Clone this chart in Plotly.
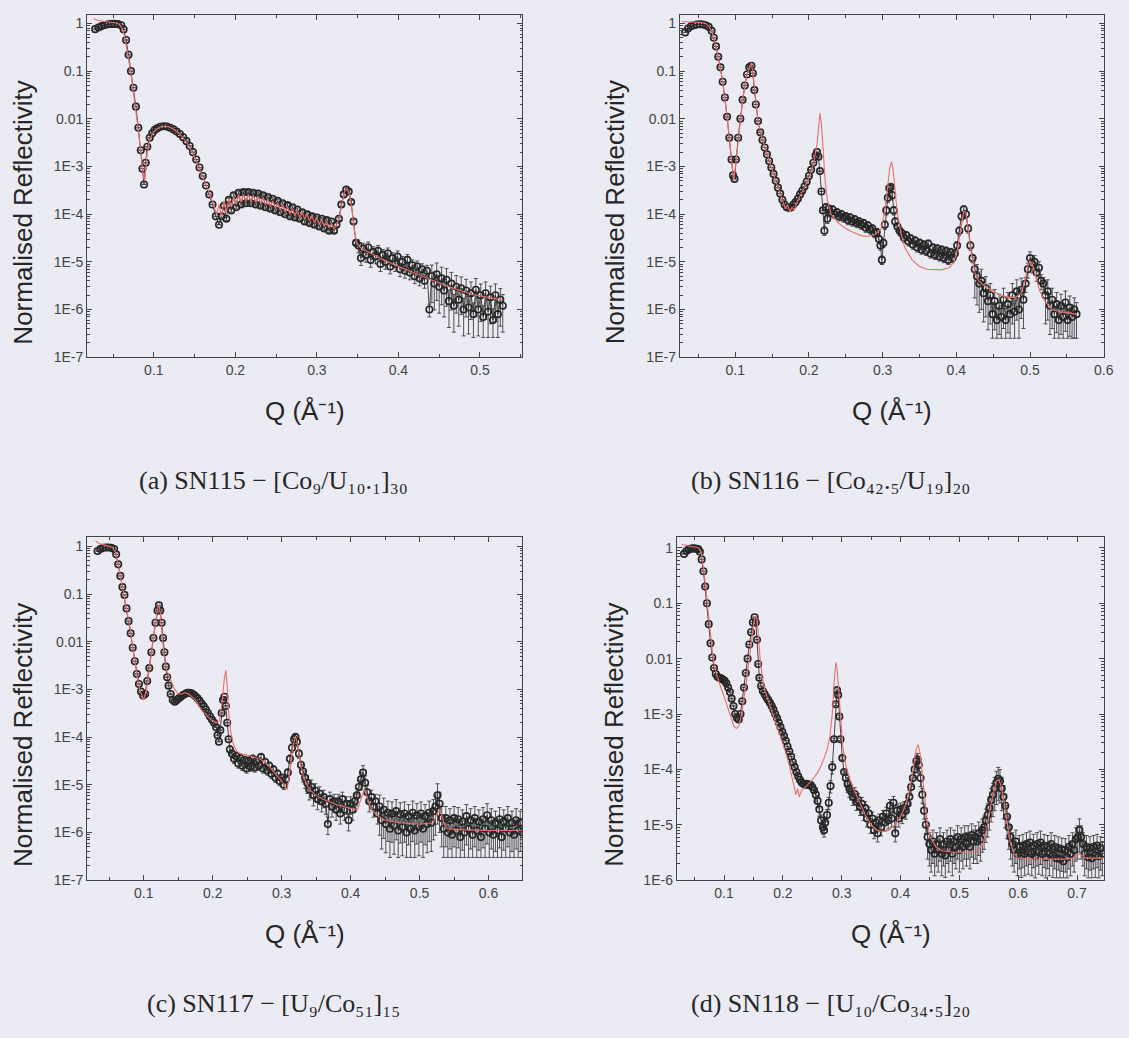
import plotly.graph_objects as go

# ------------------------------------------------------------------ data
# (a) SN115
q_exp_a = [0.028,0.032,0.036,0.040,0.044,0.048,0.052,0.056,0.060,0.063,
           0.066,0.069,0.072,0.075,0.078,0.081,0.084,0.086,0.088,0.090,
           0.092,0.095,0.098,0.101,0.104,0.108,0.112,0.116,0.120,0.124,
           0.128,0.132,0.136,0.140,0.144,0.148,0.152,0.156,0.160,0.164,
           0.168,0.172,0.176,0.180,
           0.183,0.186,0.189,0.192,0.195,0.198,0.201,0.204,0.207,0.210,
           0.213,0.216,0.219,0.222,0.225,0.228,0.231,0.234,0.237,0.240,
           0.243,0.246,0.249,0.252,0.255,0.258,0.261,0.264,0.267,0.270,
           0.273,0.276,0.279,0.282,0.285,0.288,0.291,0.294,0.297,0.300,
           0.303,0.306,0.309,0.312,0.315,0.318,0.321,0.324,0.327,0.330,
           0.333,0.336,0.339,0.342,0.345,0.348,0.351,0.354,0.357,0.360,
           0.363,0.366,0.369,0.372,0.375,0.378,0.381,0.384,0.387,0.390,
           0.393,0.396,0.399,0.402,0.405,0.408,0.411,0.414,0.417,0.420,
           0.423,0.426,0.429,0.432,0.435,0.438,0.441,0.444,0.447,0.450,
           0.453,0.456,0.459,0.462,0.465,0.468,0.471,0.474,0.477,0.480,
           0.483,0.486,0.489,0.492,0.495,0.498,0.501,0.504,0.507,0.510,
           0.513,0.516,0.519,0.522,0.525,0.528]
r_exp_a = [0.76,0.82,0.88,0.93,0.96,0.98,0.98,0.97,0.92,0.75,
           0.45,0.22,0.10,0.045,0.018,0.0065,0.0022,9e-4,4.2e-4,1.2e-3,
           2.6e-3,4.0e-3,5.0e-3,5.8e-3,6.3e-3,6.8e-3,7.0e-3,6.9e-3,6.5e-3,6.0e-3,
           5.4e-3,4.8e-3,4.1e-3,3.4e-3,2.7e-3,2.0e-3,1.4e-3,9.5e-4,6.3e-4,4.0e-4,
           2.6e-4,1.6e-4,9e-5,6e-5,
           9e-5,1.5e-4,8e-5,2.0e-4,1.2e-4,2.5e-4,1.4e-4,2.8e-4,1.6e-4,2.9e-4,
           1.7e-4,2.9e-4,1.7e-4,2.8e-4,1.6e-4,2.7e-4,1.5e-4,2.5e-4,1.4e-4,2.3e-4,
           1.3e-4,2.1e-4,1.2e-4,1.9e-4,1.1e-4,1.7e-4,1.0e-4,1.55e-4,9e-5,1.4e-4,
           8.5e-5,1.25e-4,8e-5,1.1e-4,7e-5,1.0e-4,6.5e-5,9e-5,6e-5,8.5e-5,
           5.5e-5,8e-5,5e-5,7.5e-5,4.5e-5,7e-5,4.5e-5,6e-5,8e-5,1.6e-4,
           2.6e-4,3.3e-4,3.0e-4,1.8e-4,7e-5,2.5e-5,2.2e-5,1.2e-5,1.9e-5,1.4e-5,
           2.0e-5,1.1e-5,1.6e-5,1.3e-5,1.7e-5,9e-6,1.4e-5,1.0e-5,1.5e-5,8e-6,
           1.2e-5,9e-6,1.3e-5,7e-6,1.0e-5,6.5e-6,1.1e-5,6e-6,8.5e-6,5e-6,
           8e-6,4.5e-6,7e-6,4e-6,6.5e-6,1.0e-6,5e-6,3.5e-6,5.5e-6,3e-6,
           4.5e-6,2.5e-6,4.2e-6,1.5e-6,3.5e-6,1.2e-6,3e-6,1.6e-6,2.8e-6,1.0e-6,
           2.5e-6,1.1e-6,2.2e-6,8e-7,2.6e-6,1.0e-6,2.0e-6,7e-7,2.2e-6,9e-7,
           1.8e-6,6e-7,2.0e-6,8e-7,1.6e-6,1.2e-6]
q_sim_a = [0.026,0.032,0.040,0.048,0.054,0.058,0.061,0.064,0.067,0.070,
           0.073,0.076,0.079,0.082,0.085,0.087,0.089,0.091,0.094,0.098,
           0.103,0.108,0.113,0.118,0.124,0.130,0.136,0.142,0.148,0.154,
           0.160,0.166,0.172,0.175,
           0.177,0.180,0.183,0.186,0.189,0.192,0.195,0.198,0.201,0.204,
           0.207,0.210,0.213,0.216,0.219,0.222,0.225,0.228,0.231,0.234,
           0.237,0.240,0.243,0.246,0.249,0.252,0.255,0.258,0.261,0.264,
           0.267,0.270,0.273,0.276,0.279,0.282,0.285,0.288,0.291,0.294,
           0.297,0.300,0.303,0.306,0.309,0.312,0.315,0.318,0.321,0.324,
           0.328,0.331,0.334,0.337,0.340,0.343,0.346,0.349,0.355,0.370,
           0.390,0.410,0.430,0.450,0.470,0.490,0.510,0.528]
r_sim_a = [1.25,1.15,1.1,1.06,1.02,0.95,0.8,0.55,0.3,0.14,
           0.065,0.028,0.011,0.0042,0.0014,6.5e-4,5e-4,1.5e-3,3.2e-3,4.8e-3,
           6.0e-3,6.7e-3,7.0e-3,6.8e-3,6.1e-3,5.1e-3,4.0e-3,2.9e-3,1.9e-3,1.1e-3,
           6.3e-4,3.4e-4,1.8e-4,1.3e-4,
           1.0e-4,1.6e-4,9e-5,1.9e-4,1.1e-4,2.1e-4,1.4e-4,2.4e-4,1.6e-4,2.6e-4,
           1.8e-4,2.6e-4,1.85e-4,2.6e-4,1.8e-4,2.5e-4,1.75e-4,2.4e-4,1.65e-4,2.25e-4,
           1.55e-4,2.1e-4,1.45e-4,1.9e-4,1.3e-4,1.75e-4,1.2e-4,1.6e-4,1.1e-4,1.45e-4,
           1.0e-4,1.3e-4,9.2e-5,1.2e-4,8.5e-5,1.1e-4,7.8e-5,1.0e-4,7.2e-5,9.2e-5,
           6.6e-5,8.4e-5,6e-5,7.7e-5,5.6e-5,7e-5,5.2e-5,6.4e-5,4.9e-5,5.8e-5,
           9e-5,1.8e-4,3.0e-4,3.4e-4,2.6e-4,1.2e-4,4.5e-5,2.4e-5,1.9e-5,1.4e-5,
           9.5e-6,6.8e-6,4.9e-6,3.6e-6,2.7e-6,2.1e-6,1.8e-6,1.6e-6]
err_q_a = [0.0, 0.183, 0.35, 0.44]
err_f_a = [0.0, 0.08, 0.3, 0.72]
floor_a = 2.6e-7

# (b) SN116
q_exp_b = [0.032,0.036,0.040,0.044,0.048,0.052,0.056,0.060,0.064,0.068,
           0.071,0.074,0.077,0.080,0.083,0.086,0.089,0.092,0.095,0.097,
           0.099,0.101,0.104,0.107,0.110,0.113,0.116,0.119,0.122,0.124,
           0.126,0.128,0.131,0.134,0.137,0.140,0.143,0.146,0.149,0.152,
           0.155,0.158,0.161,0.164,0.167,0.170,0.173,0.176,0.179,0.182,
           0.185,0.188,0.191,0.194,0.197,0.200,0.203,0.206,0.209,0.211,
           0.213,0.215,0.217,0.219,0.221,0.223,0.225,0.227,0.229,0.232,
           0.235,0.238,0.241,0.244,0.247,0.250,0.253,0.256,0.259,0.262,
           0.265,0.268,0.271,0.274,0.277,0.280,0.283,0.286,0.289,0.292,
           0.295,0.297,0.299,0.301,0.303,0.305,0.307,0.309,0.311,0.313,
           0.315,0.317,0.320,0.323,0.326,0.329,0.332,0.335,0.338,0.341,
           0.344,0.347,0.350,0.353,0.356,0.359,0.362,0.365,0.368,0.371,
           0.374,0.377,0.380,0.383,0.386,0.389,0.392,0.395,0.398,0.401,
           0.404,0.407,0.410,0.413,0.416,0.419,0.422,0.425,0.428,0.431,
           0.434,0.437,0.440,0.443,0.446,0.449,0.452,0.455,0.458,0.461,
           0.464,0.467,0.470,0.473,0.476,0.479,0.482,0.485,0.488,0.491,
           0.494,0.497,0.500,0.503,0.506,0.509,0.512,0.515,0.518,0.521,
           0.524,0.527,0.530,0.533,0.536,0.539,0.542,0.545,0.548,0.551,
           0.554,0.557,0.560,0.563]
r_exp_b = [0.65,0.78,0.87,0.92,0.95,0.96,0.95,0.92,0.85,0.7,
           0.5,0.33,0.2,0.12,0.06,0.028,0.011,4e-3,1.4e-3,6.5e-4,
           5.5e-4,1.4e-3,4e-3,1.0e-2,2.5e-2,5e-2,8.5e-2,0.12,0.13,0.09,
           0.04,0.02,9e-3,5.2e-3,3.6e-3,2.5e-3,1.8e-3,1.3e-3,9.5e-4,7e-4,
           5e-4,3.6e-4,2.7e-4,2.0e-4,1.6e-4,1.4e-4,1.35e-4,1.4e-4,1.6e-4,1.8e-4,
           2.1e-4,2.6e-4,3.1e-4,3.8e-4,4.8e-4,6.3e-4,8.5e-4,1.2e-3,1.7e-3,2.0e-3,
           1.6e-3,8e-4,3e-4,1.2e-4,4.5e-5,1.4e-4,8e-5,1.3e-4,1.1e-4,1.25e-4,
           1.0e-4,1.1e-4,9e-5,1.0e-4,8.5e-5,9e-5,7.5e-5,8.5e-5,7e-5,7.8e-5,
           6.5e-5,7e-5,6e-5,6.5e-5,5.2e-5,5.8e-5,4.8e-5,5e-5,4e-5,4.2e-5,
           3e-5,2.2e-5,1.1e-5,2.5e-5,6e-5,1.2e-4,2.2e-4,3.5e-4,3.7e-4,2.5e-4,
           1.2e-4,7e-5,5.5e-5,4.5e-5,4e-5,3.2e-5,3.6e-5,2.7e-5,3.1e-5,2.3e-5,
           2.8e-5,2.0e-5,2.5e-5,1.8e-5,2.3e-5,1.7e-5,2.4e-5,1.5e-5,2.0e-5,1.4e-5,
           1.9e-5,1.3e-5,1.8e-5,1.2e-5,1.7e-5,1.1e-5,1.6e-5,1.2e-5,1.5e-5,2.2e-5,
           4.5e-5,9e-5,1.25e-4,1.0e-4,5e-5,2.2e-5,1.2e-5,7e-6,5e-6,3.5e-6,
           4e-6,2.2e-6,2.8e-6,1.5e-6,2.0e-6,8e-7,1.5e-6,6e-7,1.2e-6,7e-7,
           1.6e-6,6e-7,1.3e-6,8e-7,2.0e-6,9e-7,2.4e-6,1.0e-6,2.6e-6,1.6e-6,
           3.5e-6,7e-6,1.2e-5,9e-6,1.0e-5,6e-6,7.5e-6,4e-6,3.5e-6,2e-6,
           2.4e-6,1.2e-6,1.6e-6,8e-7,1.3e-6,6e-7,1.2e-6,7e-7,1.4e-6,6e-7,
           1.1e-6,7e-7,1.0e-6,8e-7]
q_sim_b = [0.028,0.035,0.045,0.055,0.060,0.064,0.068,0.072,0.077,0.083,
           0.089,0.094,0.098,0.101,0.105,0.110,0.116,0.120,0.122,0.124,
           0.127,0.131,0.137,0.143,0.150,0.157,0.164,0.168,0.171,0.174,
           0.177,0.180,0.184,0.190,0.196,0.202,0.207,0.211,0.213,0.215,
           0.217,0.219,0.222,0.225,0.230,0.240,0.250,0.260,0.270,0.280,
           0.290,0.298,0.303,0.307,0.310,0.312,0.314,0.317,0.320,0.325,
           0.330,0.340,0.350,0.360,0.370,0.380,0.390,0.397,0.402,0.406,
           0.410,0.413,0.416,0.420,0.425,0.430,0.440,0.450,0.460,0.470,
           0.480,0.488,0.493,0.497,0.500,0.503,0.508,0.513,0.520,0.530,
           0.540,0.550,0.563]
r_sim_b = [1.1,1.09,1.07,1.04,1.0,0.88,0.7,0.45,0.2,0.06,
           0.011,1.8e-3,5e-4,1.2e-3,5e-3,0.025,0.085,0.13,0.15,0.09,
           0.03,9e-3,3.6e-3,1.8e-3,8.5e-4,4e-4,2e-4,1.3e-4,1.6e-4,1.1e-4,
           1.4e-4,1.2e-4,1.8e-4,2.7e-4,4.3e-4,7e-4,1.3e-3,3e-3,8e-3,0.013,
           8e-3,2e-3,5e-4,2e-4,1e-4,6.5e-5,5e-5,4.2e-5,3.6e-5,3.4e-5,
           3.8e-5,5e-5,1.2e-4,4e-4,1e-3,1.25e-3,9e-4,3e-4,1e-4,4e-5,
           2e-5,1.1e-5,8e-6,7e-6,6.8e-6,6.8e-6,7.5e-6,1e-5,2e-5,5e-5,
           1.15e-4,1.1e-4,5e-5,1.6e-5,6e-6,4e-6,3e-6,2.5e-6,2e-6,1.8e-6,
           1.8e-6,2.2e-6,4e-6,8e-6,1.05e-5,9e-6,5e-6,2.5e-6,1.5e-6,1.0e-6,
           9e-7,8.5e-7,8e-7]
err_q_b = [0.0, 0.22, 0.425, 0.492, 0.52]
err_f_b = [0.0, 0.2, 0.75, 0.35, 0.75]
floor_b = 2.5e-7

# (c) SN117
q_exp_c = [0.033,0.037,0.041,0.045,0.049,0.053,0.057,0.060,0.063,0.066,
           0.069,0.072,0.075,0.078,0.081,0.084,0.087,0.090,0.093,0.096,
           0.099,0.102,0.105,0.108,0.111,0.114,0.117,0.120,0.122,0.124,
           0.126,0.128,0.130,0.132,0.134,0.136,0.139,0.142,0.145,0.148,
           0.151,0.154,0.157,0.160,0.163,0.166,0.169,0.172,0.175,0.178,
           0.181,0.184,0.187,0.190,0.193,0.196,0.199,0.202,0.205,0.207,
           0.209,0.211,0.213,0.215,0.217,0.219,0.221,0.223,0.225,0.228,
           0.231,0.234,0.237,0.240,0.243,0.246,0.249,0.252,0.255,0.258,
           0.261,0.264,0.267,0.270,0.273,0.276,0.279,0.282,0.285,0.288,
           0.291,0.294,0.297,0.300,0.303,0.306,0.309,0.312,0.315,0.318,
           0.320,0.322,0.325,0.328,0.331,0.334,0.337,0.340,0.343,0.346,
           0.349,0.352,0.355,0.358,0.361,0.364,0.367,0.370,0.373,0.376,
           0.379,0.382,0.385,0.388,0.391,0.394,0.397,0.400,0.403,0.406,
           0.409,0.412,0.415,0.418,0.421,0.424,0.427,0.430,0.433,0.436,
           0.439,0.442,0.445,0.448,0.451,0.454,0.457,0.460,0.463,0.466,
           0.469,0.472,0.475,0.478,0.481,0.484,0.487,0.490,0.493,0.496,
           0.499,0.502,0.505,0.508,0.511,0.514,0.517,0.520,0.523,0.526,
           0.529,0.532,0.535,0.538,0.541,0.544,0.547,0.550,0.553,0.556,
           0.559,0.562,0.565,0.568,0.571,0.574,0.577,0.580,0.583,0.586,
           0.589,0.592,0.595,0.598,0.601,0.604,0.607,0.610,0.613,0.616,
           0.619,0.622,0.625,0.628,0.631,0.634,0.637,0.640,0.643,0.646,
           0.649]
r_exp_c = [0.8,0.88,0.93,0.95,0.95,0.93,0.88,0.68,0.42,0.24,
           0.14,0.096,0.05,0.027,0.015,7.5e-3,3.9e-3,2.1e-3,1.3e-3,9e-4,
           7.5e-4,8e-4,1.5e-3,2.8e-3,6e-3,1.2e-2,2.5e-2,4.5e-2,5.8e-2,4.5e-2,
           2.5e-2,1.2e-2,6e-3,3e-3,1.8e-3,1.2e-3,8e-4,6e-4,5.5e-4,6e-4,
           6.5e-4,7e-4,7.6e-4,8e-4,8.5e-4,8.5e-4,8.3e-4,7.8e-4,7.2e-4,6.5e-4,
           5.8e-4,5e-4,4.4e-4,3.8e-4,3.2e-4,2.7e-4,2.3e-4,2e-4,1.6e-4,1.1e-4,
           8e-5,1.4e-4,3.2e-4,6e-4,7e-4,4.5e-4,2e-4,9e-5,5.5e-5,4.5e-5,
           3.5e-5,4e-5,2.8e-5,3.6e-5,2.5e-5,3.3e-5,2.2e-5,3.2e-5,2.4e-5,3.5e-5,
           2.3e-5,3.2e-5,2.5e-5,3.8e-5,2.2e-5,3.0e-5,2e-5,2.5e-5,1.7e-5,2.1e-5,
           1.4e-5,1.7e-5,1.2e-5,1.4e-5,1.0e-5,1.3e-5,1.8e-5,3.5e-5,6e-5,9e-5,
           1.0e-4,8e-5,4.5e-5,2.6e-5,1.9e-5,1.4e-5,1.1e-5,8e-6,9e-6,6e-6,
           7.5e-6,5e-6,6.5e-6,4.5e-6,5.5e-6,4e-6,1.5e-6,5e-6,3.5e-6,4.5e-6,
           3e-6,4.5e-6,2.5e-6,5e-6,3e-6,4e-6,1.8e-6,4e-6,3e-6,4.5e-6,
           6e-6,9e-6,1.3e-5,1.8e-5,1.1e-5,7e-6,4.5e-6,5.5e-6,3.5e-6,4.5e-6,
           2.5e-6,3.5e-6,1.8e-6,3e-6,1.5e-6,2.6e-6,1.2e-6,2.5e-6,1.4e-6,2.8e-6,
           1.1e-6,2.4e-6,1.3e-6,2.5e-6,1.0e-6,2.2e-6,1.2e-6,2.6e-6,1.1e-6,2.3e-6,
           1.3e-6,2.5e-6,1.2e-6,2.2e-6,1.5e-6,2.6e-6,1.6e-6,2.8e-6,3.5e-6,6e-6,
           4e-6,2.0e-6,1.2e-6,2.0e-6,1.0e-6,1.8e-6,9e-7,2.0e-6,1.1e-6,1.9e-6,
           8e-7,1.7e-6,1.0e-6,2.2e-6,1.2e-6,1.8e-6,9e-7,2.0e-6,1.1e-6,1.7e-6,
           8e-7,1.9e-6,1.2e-6,2.3e-6,1.0e-6,1.8e-6,9e-7,1.6e-6,1.1e-6,1.9e-6,
           8e-7,1.7e-6,1.2e-6,2.0e-6,1.0e-6,1.6e-6,9e-7,1.8e-6,1.1e-6,1.6e-6,
           1.0e-6]
q_sim_c = [0.030,0.035,0.045,0.055,0.060,0.063,0.066,0.070,0.075,0.080,
           0.085,0.090,0.095,0.100,0.104,0.108,0.112,0.116,0.120,0.122,
           0.124,0.127,0.130,0.133,0.137,0.140,0.145,0.150,0.155,0.160,
           0.165,0.170,0.175,0.180,0.185,0.190,0.195,0.200,0.205,0.210,
           0.214,0.217,0.219,0.221,0.223,0.226,0.230,0.235,0.240,0.250,
           0.260,0.270,0.280,0.290,0.300,0.305,0.308,0.312,0.316,0.320,
           0.323,0.327,0.332,0.340,0.350,0.360,0.380,0.400,0.410,0.415,
           0.420,0.425,0.430,0.440,0.450,0.470,0.500,0.520,0.525,0.530,
           0.535,0.540,0.560,0.600,0.649]
r_sim_c = [1.3,1.15,1.05,0.95,0.7,0.42,0.24,0.12,0.055,0.02,
           6e-3,2e-3,9e-4,6e-4,1.0e-3,2.5e-3,7e-3,2e-2,5e-2,6e-2,
           4e-2,1.2e-2,4.5e-3,2.5e-3,1.8e-3,1.4e-3,1.0e-3,8e-4,8e-4,8.5e-4,
           8e-4,7e-4,6e-4,4.5e-4,3.5e-4,3.0e-4,2.5e-4,2.2e-4,2.0e-4,2.2e-4,
           6e-4,1.8e-3,2.5e-3,1.2e-3,3.5e-4,1.3e-4,7e-5,5e-5,4.5e-5,4.2e-5,
           3.8e-5,3.4e-5,2.6e-5,1.8e-5,1.2e-5,9e-6,8e-6,2e-5,6e-5,1.05e-4,
           7e-5,2.8e-5,1.4e-5,8e-6,6e-6,5e-6,3.8e-6,3.2e-6,3e-6,5e-6,
           8e-6,5e-6,3e-6,2.2e-6,1.8e-6,1.6e-6,1.5e-6,1.6e-6,2.5e-6,3e-6,
           1.6e-6,1.2e-6,1.15e-6,1.1e-6,1.1e-6]
err_q_c = [0.0, 0.224, 0.33, 0.44]
err_f_c = [0.0, 0.2, 0.4, 0.75]
floor_c = 3.0e-7

# (d) SN118
q_exp_d = [0.032,0.036,0.040,0.044,0.048,0.052,0.056,0.059,0.062,0.065,
           0.068,0.071,0.074,0.077,0.080,0.083,0.086,0.089,0.092,0.095,
           0.098,0.101,0.104,0.107,0.110,0.113,0.116,0.119,0.122,0.125,
           0.128,0.131,0.134,0.137,0.140,0.143,0.146,0.149,0.152,0.154,
           0.156,0.158,0.160,0.163,0.166,0.169,0.172,0.175,0.178,0.181,
           0.184,0.187,0.190,0.193,0.196,0.199,0.202,0.205,0.208,0.211,
           0.214,0.217,0.220,0.223,0.226,0.229,0.232,0.235,0.238,0.241,
           0.244,0.247,0.250,0.253,0.256,0.259,0.262,0.265,0.268,0.270,
           0.272,0.275,0.278,0.281,0.284,0.287,0.290,0.292,0.294,0.296,
           0.298,0.301,0.304,0.307,0.310,0.313,0.316,0.319,0.322,0.325,
           0.328,0.331,0.334,0.337,0.340,0.343,0.346,0.349,0.352,0.355,
           0.358,0.361,0.364,0.367,0.370,0.373,0.376,0.379,0.382,0.385,
           0.388,0.391,0.394,0.397,0.400,0.403,0.406,0.409,0.412,0.415,
           0.418,0.421,0.424,0.427,0.429,0.431,0.434,0.437,0.440,0.443,
           0.446,0.449,0.452,0.455,0.458,0.461,0.464,0.467,0.470,0.473,
           0.476,0.479,0.482,0.485,0.488,0.491,0.494,0.497,0.500,0.503,
           0.506,0.509,0.512,0.515,0.518,0.521,0.524,0.527,0.530,0.533,
           0.536,0.539,0.542,0.545,0.548,0.551,0.554,0.557,0.560,0.563,
           0.566,0.569,0.572,0.575,0.578,0.581,0.584,0.587,0.590,0.593,
           0.596,0.599,0.602,0.605,0.608,0.611,0.614,0.617,0.620,0.623,
           0.626,0.629,0.632,0.635,0.638,0.641,0.644,0.647,0.650,0.653,
           0.656,0.659,0.662,0.665,0.668,0.671,0.674,0.677,0.680,0.683,
           0.686,0.689,0.692,0.695,0.698,0.701,0.704,0.707,0.710,0.713,
           0.716,0.719,0.722,0.725,0.728,0.731,0.734,0.737,0.740,0.743]
r_exp_d = [0.78,0.88,0.94,0.97,0.98,0.97,0.95,0.85,0.62,0.38,
           0.2,0.1,0.042,0.019,0.0105,6.8e-3,5.3e-3,4.7e-3,4.5e-3,4.4e-3,
           4.2e-3,4.0e-3,3.6e-3,3.0e-3,2.5e-3,1.9e-3,1.4e-3,1.0e-3,8.5e-4,8e-4,
           1.0e-3,1.7e-3,3.0e-3,5.5e-3,0.01,0.018,0.03,0.045,0.056,0.045,
           0.022,8e-3,4.5e-3,3.2e-3,2.6e-3,2.3e-3,2.0e-3,1.8e-3,1.6e-3,1.4e-3,
           1.2e-3,1.0e-3,8.5e-4,7e-4,5.8e-4,4.8e-4,4e-4,3.3e-4,2.6e-4,2.1e-4,
           1.7e-4,1.35e-4,1.1e-4,9e-5,7.5e-5,6.5e-5,5.8e-5,5.5e-5,5.3e-5,5.5e-5,
           5.2e-5,5.3e-5,4.8e-5,4.2e-5,3.5e-5,2.7e-5,1.9e-5,1.2e-5,9e-6,8e-6,
           1.1e-5,1.5e-5,2.5e-5,5e-5,1.1e-4,3.5e-4,1.5e-3,2.7e-3,2.2e-3,9e-4,
           3.5e-4,1.6e-4,9e-5,7e-5,5.5e-5,4.5e-5,4e-5,3.2e-5,3.6e-5,2.6e-5,
           2.8e-5,2.1e-5,2.4e-5,1.7e-5,2.0e-5,1.3e-5,1.6e-5,1.0e-5,1.3e-5,8e-6,
           1.1e-5,7e-6,1.2e-5,9e-6,1.4e-5,1.1e-5,1.6e-5,1.2e-5,2.2e-5,1.3e-5,
           2.5e-5,7e-6,1.8e-5,1.3e-5,1.9e-5,1.5e-5,2.0e-5,1.8e-5,2.4e-5,3.2e-5,
           4.8e-5,7e-5,1.0e-4,1.4e-4,1.5e-4,1.2e-4,7e-5,3.5e-5,1.8e-5,1.0e-5,
           6e-6,4.5e-6,3.5e-6,5e-6,3e-6,4.5e-6,3.5e-6,5.5e-6,3e-6,4.5e-6,
           2.8e-6,5e-6,3.5e-6,5.5e-6,3e-6,5e-6,4e-6,6e-6,3.5e-6,5.5e-6,
           4e-6,6e-6,4.5e-6,6e-6,4e-6,6.5e-6,5e-6,6e-6,5e-6,7e-6,
           5.5e-6,8e-6,9e-6,1.2e-5,1.5e-5,2e-5,2.8e-5,3.5e-5,4.5e-5,5.8e-5,
           6.8e-5,6.2e-5,4.5e-5,3.2e-5,2.2e-5,1.4e-5,9e-6,6e-6,4.5e-6,3.5e-6,
           5e-6,3e-6,4e-6,2.8e-6,4.2e-6,3e-6,4.5e-6,3.2e-6,4.8e-6,3e-6,
           4.2e-6,2.7e-6,4.5e-6,3.2e-6,4.8e-6,3e-6,4.2e-6,2.6e-6,4e-6,3e-6,
           4.5e-6,2.8e-6,4e-6,2.5e-6,3.8e-6,2.4e-6,3.6e-6,2.2e-6,3.5e-6,2.6e-6,
           4e-6,3e-6,4.5e-6,3.5e-6,5.5e-6,6e-6,8e-6,6e-6,4.5e-6,3e-6,
           4e-6,2.6e-6,3.8e-6,2.5e-6,4e-6,2.8e-6,4.2e-6,2.7e-6,3.8e-6,3e-6]
q_sim_d = [0.028,0.035,0.045,0.055,0.060,0.063,0.066,0.069,0.072,0.075,
           0.078,0.081,0.084,0.088,0.092,0.097,0.102,0.107,0.112,0.117,
           0.121,0.125,0.129,0.133,0.137,0.141,0.145,0.149,0.152,0.155,
           0.158,0.161,0.165,0.170,0.175,0.180,0.190,0.200,0.205,0.210,
           0.215,0.219,0.222,0.225,0.228,0.232,0.236,0.240,0.250,0.260,
           0.268,0.275,0.280,0.284,0.287,0.290,0.292,0.295,0.298,0.302,
           0.307,0.313,0.320,0.330,0.340,0.350,0.360,0.370,0.380,0.390,
           0.400,0.410,0.418,0.423,0.427,0.430,0.433,0.437,0.441,0.445,
           0.450,0.460,0.470,0.490,0.510,0.530,0.540,0.548,0.554,0.559,
           0.563,0.567,0.571,0.575,0.580,0.586,0.593,0.600,0.620,0.650,
           0.680,0.695,0.702,0.708,0.715,0.745]
r_sim_d = [1.15,1.1,1.06,1.02,0.9,0.62,0.36,0.19,0.09,0.042,
           0.02,0.011,7e-3,4.8e-3,3.6e-3,2.6e-3,1.8e-3,1.2e-3,8e-4,6e-4,
           5.5e-4,6e-4,9e-4,1.6e-3,3.2e-3,7e-3,0.016,0.035,0.055,0.06,
           0.03,0.011,4.5e-3,2.6e-3,1.7e-3,1.2e-3,6e-4,3e-4,2e-4,1.3e-4,
           8e-5,5e-5,3.5e-5,4.5e-5,3.2e-5,4.2e-5,4.6e-5,5e-5,6.5e-5,9e-5,
           1.4e-4,2.2e-4,4e-4,1e-3,3.5e-3,8.5e-3,7e-3,2.5e-3,8e-4,2.5e-4,
           1.2e-4,7e-5,4.5e-5,2.5e-5,1.5e-5,1e-5,8e-6,7.5e-6,8e-6,1e-5,
           1.4e-5,2.5e-5,6e-5,1.3e-4,2.4e-4,2.8e-4,2e-4,8e-5,3e-5,1.2e-5,
           6e-6,4e-6,3.4e-6,3.2e-6,3.2e-6,3.3e-6,4.5e-6,1e-5,2.5e-5,4.5e-5,
           6.2e-5,6.5e-5,5e-5,3e-5,1.2e-5,5e-6,3e-6,2.5e-6,2.4e-6,2.4e-6,
           2.4e-6,2.5e-6,3e-6,2.8e-6,2.5e-6,2.5e-6]
err_q_d = [0.0, 0.255, 0.285, 0.305, 0.445]
err_f_d = [0.0, 0.25, 0.05, 0.3, 0.6]
floor_d = 1.1e-6

# axis labels / captions
y_tickvals_7 = [1e-7, 1e-6, 1e-5, 1e-4, 1e-3, 0.01, 0.1, 1]
y_ticktext_7 = ["1E-7", "1E-6", "1E-5", "1E-4", "1E-3", "0.01", "0.1", "1"]
y_tickvals_6 = [1e-6, 1e-5, 1e-4, 1e-3, 0.01, 0.1, 1]
y_ticktext_6 = ["1E-6", "1E-5", "1E-4", "1E-3", "0.01", "0.1", "1"]
captions = ["(a) SN115 \u2212 [Co\u2089/U\u2081\u2080.\u2081]\u2083\u2080",
            "(b) SN116 \u2212 [Co\u2084\u2082.\u2085/U\u2081\u2089]\u2082\u2080",
            "(c) SN117 \u2212 [U\u2089/Co\u2085\u2081]\u2081\u2085",
            "(d) SN118 \u2212 [U\u2081\u2080/Co\u2083\u2084.\u2085]\u2082\u2080"]
y_title = "Normalised Reflectivity"
x_title = "Q (\u00c5\u207b\u00b9)"

# ------------------------------------------------------------------ style / layout
W, H = 1129, 1038
BG = "#ebebf3"
AX = "#444444"
DARK = "#262626"
RED = "#ea6f6b"


def px(x):
    return x / W


def py(y):
    return 1 - y / H


# frame boxes in pixels: (left, right, top, bottom)
boxes = [(88, 527, 15, 360), (686, 1114, 15, 360),
         (88, 527, 541, 887), (683, 1114, 541, 887)]
xranges = [[0.0183, 0.552], [0.025, 0.6005], [0.018, 0.649], [0.020, 0.746]]
yranges = [[-7, 0.18], [-7, 0.18], [-7, 0.2], [-6, 0.2]]


def errbars(q, r, qb, fb, floor):
    up, dn = [], []
    for qi, ri in zip(q, r):
        f = fb[0]
        for b, ff in zip(qb, fb):
            if qi >= b:
                f = ff
        e = ri * f
        up.append(e)
        dn.append(max(0.0, min(e, ri - floor)))
    return up, dn


panels = [
    (q_exp_a, r_exp_a, q_sim_a, r_sim_a, err_q_a, err_f_a, floor_a),
    (q_exp_b, r_exp_b, q_sim_b, r_sim_b, err_q_b, err_f_b, floor_b),
    (q_exp_c, r_exp_c, q_sim_c, r_sim_c, err_q_c, err_f_c, floor_c),
    (q_exp_d, r_exp_d, q_sim_d, r_sim_d, err_q_d, err_f_d, floor_d),
]

fig = go.Figure()
layout = dict(width=W, height=H, margin=dict(l=0, r=0, t=0, b=0),
              paper_bgcolor=BG, plot_bgcolor=BG, showlegend=False)
annotations = []
SANS = "Liberation Sans, Arial, sans-serif"

for i, (qe, re_, qs, rs, qb, fb, fl) in enumerate(panels):
    n = "" if i == 0 else str(i + 1)
    xa, ya = "x" + n, "y" + n
    up, dn = errbars(qe, re_, qb, fb, fl)
    fig.add_trace(go.Scatter(
        x=qe, y=re_, xaxis=xa, yaxis=ya, mode="lines+markers",
        line=dict(color="#333333", width=0.9),
        marker=dict(symbol="circle-open", size=6.5, color=DARK,
                    line=dict(width=1.6, color=DARK)),
        error_y=dict(type="data", array=up, arrayminus=dn, symmetric=False,
                     color="#404040", thickness=0.9, width=2),
        name="Experimental Data"))
    fig.add_trace(go.Scatter(
        x=qs, y=rs, xaxis=xa, yaxis=ya, mode="lines",
        line=dict(color=RED, width=1.1), name="Simulated Reflectivity"))

    l, r, t, b = boxes[i]
    lo, hi = yranges[i]
    if lo == -7:
        tv, tt = y_tickvals_7, y_ticktext_7
    else:
        tv, tt = y_tickvals_6, y_ticktext_6
    minor_vals = [m * 10.0 ** e for e in range(lo, 1) for m in range(2, 10)]
    layout["xaxis" + n] = dict(
        domain=[px(l), px(r)], range=xranges[i], anchor=ya,
        tickmode="linear", tick0=0, dtick=0.1, ticks="inside", ticklen=5,
        tickwidth=1, tickcolor=AX,
        minor=dict(dtick=0.05, tick0=0, ticks="inside", ticklen=3, tickcolor=AX),
        showline=True, linecolor=AX, linewidth=1.4, mirror="ticks",
        showgrid=False, zeroline=False,
        tickfont=dict(family=SANS, size=14, color=AX))
    layout["yaxis" + n] = dict(
        domain=[py(b), py(t)], type="log", range=[lo, hi], anchor=xa,
        tickmode="array", tickvals=tv, ticktext=tt, ticks="inside", ticklen=5,
        tickwidth=1, tickcolor=AX,
        minor=dict(tickmode="array", tickvals=minor_vals, ticks="inside",
                   ticklen=2.5, tickcolor=AX),
        showline=True, linecolor=AX, linewidth=1.4, mirror="ticks",
        showgrid=False, zeroline=False,
        tickfont=dict(family=SANS, size=14, color=AX))

    # axis titles and caption
    ytx = 23 if i % 2 == 0 else 620
    annotations.append(dict(
        text=y_title, x=px(ytx), y=py((t + b) / 2 + 27), xref="paper", yref="paper",
        textangle=-90, showarrow=False, xanchor="center", yanchor="middle",
        font=dict(family=SANS, size=26, color=DARK)))
    annotations.append(dict(
        text=x_title, x=px((l + r) / 2), y=py(b + 54), xref="paper", yref="paper",
        showarrow=False, xanchor="center", yanchor="middle",
        font=dict(family=SANS, size=26, color=DARK)))
    capx = 276 if i % 2 == 0 else 838
    annotations.append(dict(
        text=captions[i], x=px(capx), y=py(b + 124), xref="paper", yref="paper",
        showarrow=False, xanchor="center", yanchor="middle",
        font=dict(family="Liberation Serif, DejaVu Serif, serif", size=26,
                  color=DARK)))

layout["annotations"] = annotations
fig.update_layout(**layout)
fig.write_html("out.html")
